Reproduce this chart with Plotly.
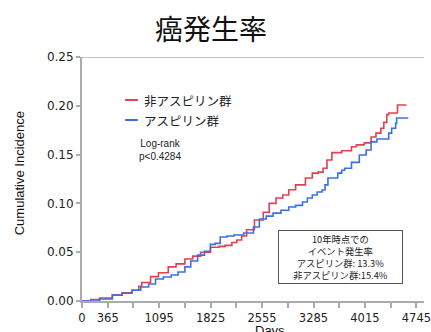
import plotly.graph_objects as go

# Cumulative incidence step curves (days, incidence)
non_aspirin_days = [0, 125, 250, 431, 570, 709, 806, 848, 973, 1085, 1224, 1335, 1460, 1571,
                    1683, 1822, 1947, 2030, 2127, 2197, 2266, 2336, 2447, 2572, 2656, 2753,
                    2850, 2934, 3031, 3170, 3268, 3351, 3421, 3476, 3546, 3685, 3824, 3893,
                    4005, 4102, 4171, 4241, 4283, 4325, 4352, 4477, 4603]
non_aspirin_inc = [0.0, 0.0015, 0.003, 0.006, 0.0085, 0.011, 0.015, 0.019, 0.025, 0.029, 0.035,
                   0.038, 0.043, 0.046, 0.050, 0.055, 0.056, 0.057, 0.060, 0.0625, 0.0666, 0.073,
                   0.083, 0.091, 0.100, 0.1055, 0.1086, 0.114, 0.119, 0.126, 0.131, 0.132, 0.136,
                   0.1445, 0.152, 0.154, 0.158, 0.160, 0.162, 0.168, 0.172, 0.177, 0.183, 0.191,
                   0.1926, 0.2008, 0.2008]

aspirin_days = [0, 70, 250, 431, 570, 709, 834, 946, 1043, 1154, 1265, 1363, 1460, 1543, 1641,
                1738, 1822, 1891, 1961, 2058, 2155, 2294, 2433, 2517, 2614, 2711, 2823, 2934,
                3031, 3129, 3198, 3268, 3337, 3407, 3448, 3490, 3629, 3685, 3727, 3824, 3935,
                4032, 4102, 4185, 4325, 4352, 4394, 4450, 4464, 4630]
aspirin_inc = [0.0, 0.0, 0.002, 0.006, 0.008, 0.011, 0.0143, 0.0174, 0.0225, 0.0246, 0.0266,
               0.0297, 0.035, 0.041, 0.047, 0.051, 0.058, 0.059, 0.0656, 0.0666, 0.0676, 0.0697,
               0.0758, 0.084, 0.087, 0.090, 0.093, 0.0963, 0.098, 0.1014, 0.1055, 0.1086, 0.1117,
               0.1137, 0.119, 0.126, 0.131, 0.134, 0.136, 0.142, 0.1496, 0.1547, 0.163, 0.166,
               0.166, 0.172, 0.177, 0.182, 0.1875, 0.1875]

series_names = ["非アスピリン群", "アスピリン群"]
series_colors = ["#e2404f", "#3b6fe6"]

x_tick_vals = [0, 365, 730, 1095, 1460, 1825, 2190, 2555, 2920, 3285, 3650, 4015, 4380, 4745]
x_tick_text = ["0", "365", "", "1095", "", "1825", "", "2555", "", "3285", "", "4015", "", "4745"]
y_tick_vals = [0.0, 0.05, 0.10, 0.15, 0.20, 0.25]
y_tick_text = ["0.00", "0.05", "0.10", "0.15", "0.20", "0.25"]

title_text = "癌発生率"
logrank_text = "Log-rank<br>p<0.4284"
box_text = "10年時点での<br>イベント発生率<br>アスピリン群: 13.3%<br>非アスピリン群:15.4%"

W, H = 431, 332
ML, MR, MT, MB = 82, 0, 57, 31
PW, PH = W - ML - MR, H - MT - MB


def px(x):
    return (x - ML) / PW


def py(y):
    return (H - MB - y) / PH


axis_grey = "#ababab"
jp_font = "Noto Sans CJK JP"

fig = go.Figure()
for days, inc, name, color in [(non_aspirin_days, non_aspirin_inc, series_names[0], series_colors[0]),
                               (aspirin_days, aspirin_inc, series_names[1], series_colors[1])]:
    fig.add_trace(go.Scatter(x=days, y=inc, mode="lines", name=name,
                             line=dict(color=color, width=1.6, shape="hv"),
                             showlegend=False, cliponaxis=False))

fig.update_layout(
    width=W, height=H,
    margin=dict(l=ML, r=MR, t=MT, b=MB),
    paper_bgcolor="white", plot_bgcolor="white",
    title=dict(text=title_text, x=211 / W, xref="container", xanchor="center",
               y=1 - 30 / H, yref="container", yanchor="middle",
               font=dict(family=jp_font, size=28, color="#111111")),
    xaxis=dict(range=[0, 4853], tickmode="array", tickvals=x_tick_vals, ticktext=x_tick_text,
               showgrid=False, zeroline=False, showline=True, linecolor=axis_grey, linewidth=2,
               ticks="outside", ticklen=5, tickwidth=1.5, tickcolor=axis_grey,
               ticklabeloverflow="allow",
               tickfont=dict(family="DejaVu Sans", size=11.5, color="#222222")),
    yaxis=dict(range=[0, 0.25], tickmode="array", tickvals=y_tick_vals, ticktext=y_tick_text,
               showgrid=False, zeroline=False, showline=True, linecolor=axis_grey, linewidth=2,
               ticks="outside", ticklen=4, tickwidth=1.5, tickcolor=axis_grey,
               tickfont=dict(family="DejaVu Sans", size=12, color="#222222")),
    showlegend=False,
)

# top border line
fig.add_shape(type="line", xref="paper", yref="y", x0=0, x1=1, y0=0.25, y1=0.25,
              line=dict(color=axis_grey, width=1.5))

# legend samples and labels
for name, color, ypix in [(series_names[0], series_colors[0], 100), (series_names[1], series_colors[1], 120)]:
    fig.add_shape(type="line", xref="paper", yref="paper", x0=px(126), x1=px(139),
                  y0=py(ypix), y1=py(ypix), line=dict(color=color, width=2))
    fig.add_annotation(text=name, xref="paper", yref="paper", x=px(143), y=py(ypix),
                       xanchor="left", yanchor="middle", showarrow=False,
                       font=dict(family=jp_font, size=12.5, color="#222222"))

fig.add_annotation(text=logrank_text, xref="paper", yref="paper", x=px(162), y=py(150),
                   xanchor="center", yanchor="middle", showarrow=False, align="center",
                   font=dict(family="Liberation Sans", size=10, color="#222222"))

fig.add_annotation(text=box_text, xref="paper", yref="paper", x=px(345.5), y=py(257),
                   xanchor="center", yanchor="middle", showarrow=False, align="center",
                   width=123, height=52, bordercolor="#555555", borderwidth=1, borderpad=0,
                   bgcolor="white",
                   font=dict(family=jp_font, size=9.3, color="#222222"))

# axis titles
fig.add_annotation(text="Cumulative Incidence", xref="paper", yref="paper", x=px(18), y=py(173),
                   xanchor="center", yanchor="middle", showarrow=False, textangle=-90,
                   font=dict(family="Liberation Sans", size=13, color="#111111"))
fig.add_annotation(text="Days", xref="paper", yref="paper", x=px(274), y=py(330),
                   xanchor="center", yanchor="middle", showarrow=False,
                   font=dict(family="Liberation Sans", size=13, color="#111111"))

fig.write_html("out.html")
